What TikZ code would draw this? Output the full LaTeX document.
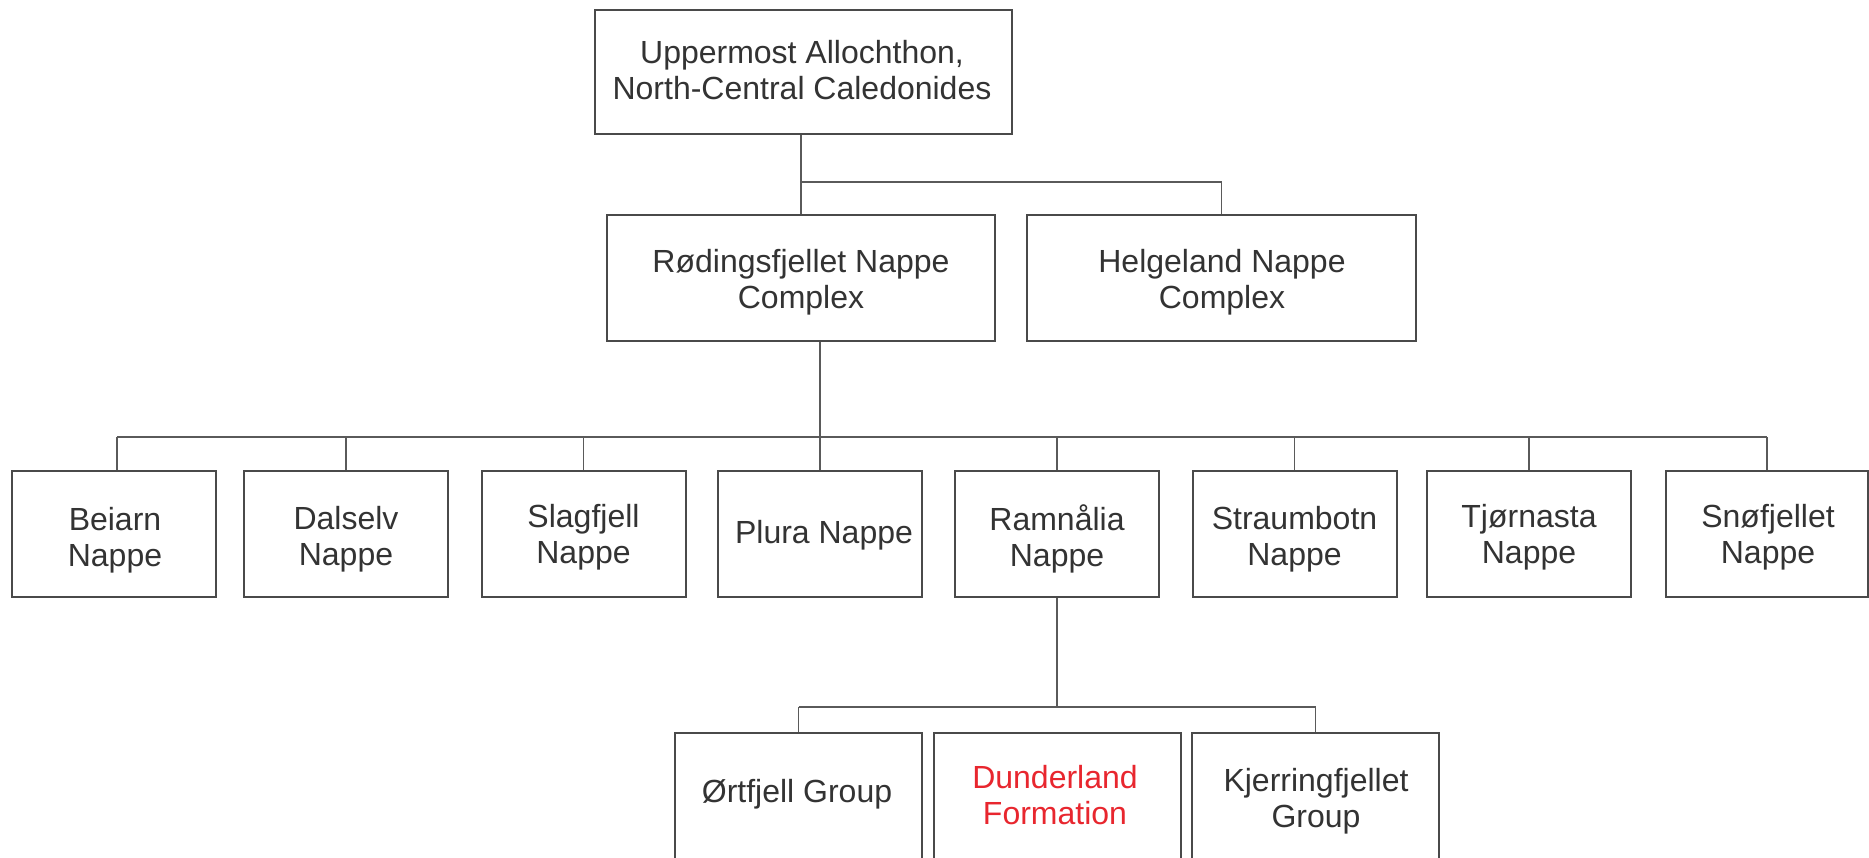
\documentclass[tikz,border=0pt]{standalone}
\usepackage{fontspec}
\setmainfont{Liberation Sans}
\definecolor{boxgray}{HTML}{4A4A4A}
\definecolor{linegray}{HTML}{5A5A5A}
\definecolor{txtgray}{HTML}{333333}
\definecolor{redtxt}{HTML}{E8262E}
\begin{document}
\begin{tikzpicture}[x=0.5pt,y=-0.5pt,
  box/.style={draw=boxgray, line width=1pt, rectangle, inner sep=0pt},
  bigbox/.style={box, minimum width=194pt, minimum height=63pt},
  nappebox/.style={box, minimum width=102pt, minimum height=63pt},
  lowbox/.style={box, minimum width=123.5pt, minimum height=66pt},
  txt/.style={inner sep=0pt, align=center, text=txtgray, font=\fontsize{16}{18.2}\selectfont},
  conn/.style={draw=linegray, line width=0.75pt}]
\useasboundingbox (0,0) rectangle (1869,857);
\clip (0,0) rectangle (1869,857);
\fill[white] (0,0) rectangle (1869,857);
% boxes
\node[box, minimum width=208.5pt, minimum height=62pt] (top) at (803,72) {};
\node[bigbox] (rod) at (801,278) {};
\node[bigbox, minimum width=194.5pt] (hel) at (1221.5,278) {};
\node[nappebox] (bei) at (113.5,534) {};
\node[nappebox] (dal) at (346,534) {};
\node[nappebox] (sla) at (583.5,534) {};
\node[nappebox] (plu) at (820,534) {};
\node[nappebox] (ram) at (1057,534) {};
\node[nappebox] (str) at (1294.5,534) {};
\node[nappebox] (tjo) at (1529,534) {};
\node[nappebox, minimum width=101pt] (sno) at (1767,534) {};
\node[lowbox] (ort) at (798.5,799) {};
\node[lowbox] (dun) at (1057.5,799) {};
\node[lowbox] (kje) at (1315.5,799) {};
% texts
\node[txt] (top-t) at (802,70) {Uppermost Allochthon,\\North-Central Caledonides};
\node[txt] (rod-t) at (801,282) {Rødingsfjellet Nappe\\Complex};
\node[txt] (hel-t) at (1222,282) {Helgeland Nappe\\Complex};
\node[txt] (bei-t) at (115,540) {Beiarn\\Nappe};
\node[txt] (dal-t) at (346,539) {Dalselv\\Nappe};
\node[txt] (sla-t) at (583.5,537) {Slagfjell\\Nappe};
\node[txt] (plu-t) at (824,535) {Plura Nappe};
\node[txt] (ram-t) at (1057,539) {Ramnålia\\Nappe};
\node[txt] (str-t) at (1294.5,539) {Straumbotn\\Nappe};
\node[txt] (tjo-t) at (1529,537) {Tjørnasta\\Nappe};
\node[txt] (sno-t) at (1768,537) {Snøfjellet\\Nappe};
\node[txt] (ort-t) at (797,794) {Ørtfjell Group};
\node[txt, text=redtxt] (dun-t) at (1055,795) {Dunderland\\Formation};
\node[txt] (kje-t) at (1316,801) {Kjerringfjellet\\Group};
% connectors
\coordinate (j1) at (801,182);
\coordinate (j2) at (820,437);
\coordinate (j3) at (1057,707);
\draw[conn] (rod.north |- top.south) -- (rod.north);
\draw[conn] (j1) -| (hel.north);
\draw[conn] (rod.south -| plu.north) -- (plu.north);
\draw[conn] ([xshift=1.75pt]bei.north |- j2) -- (sno.north |- j2);
\draw[conn] ([xshift=1.75pt]bei.north |- j2) -- ([xshift=1.75pt]bei.north);
\foreach \n in {dal,sla,ram,str,tjo,sno}{
  \draw[conn] (\n.north |- j2) -- (\n.north);
}
\draw[conn] (ram.south) -- (j3);
\draw[conn] (ort.north |- j3) -- (kje.north |- j3);
\draw[conn] (ort.north |- j3) -- (ort.north);
\draw[conn] (kje.north |- j3) -- (kje.north);
\end{tikzpicture}
\end{document}
